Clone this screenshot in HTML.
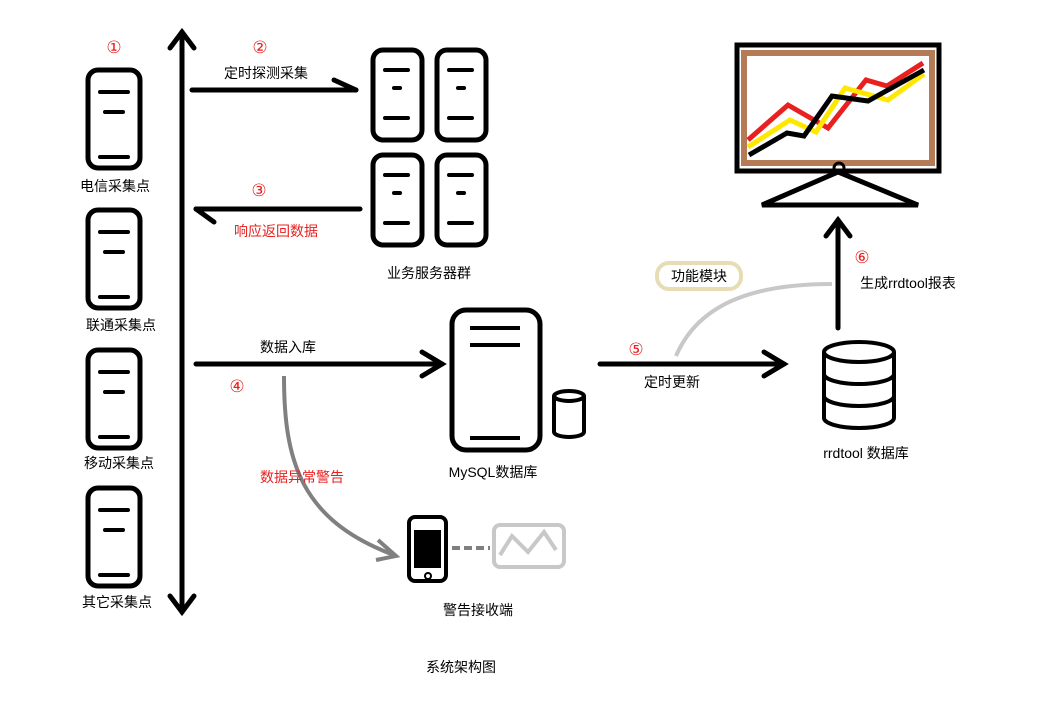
<!DOCTYPE html>
<html><head><meta charset="utf-8"><style>
body{margin:0;background:#fff}
text{font-family:"Liberation Sans","Noto Sans CJK SC",sans-serif;font-size:14px}
.c{font-size:17px;font-family:"DejaVu Sans","Noto Sans CJK SC",sans-serif}
</style></head><body>
<svg width="1047" height="699" viewBox="0 0 1047 699" xmlns="http://www.w3.org/2000/svg">
<defs>
<g id="srv">
<rect x="0" y="0" width="52" height="98" rx="10" fill="none" stroke="#000" stroke-width="5"/>
<line x1="12" y1="22" x2="40" y2="22" stroke="#000" stroke-width="4" stroke-linecap="round"/>
<line x1="17" y1="42" x2="35" y2="42" stroke="#000" stroke-width="4" stroke-linecap="round"/>
<line x1="12" y1="87" x2="40" y2="87" stroke="#000" stroke-width="4" stroke-linecap="round"/>
</g>
<g id="srv2">
<rect x="0" y="0" width="49" height="90" rx="10" fill="none" stroke="#000" stroke-width="5"/>
<line x1="12" y1="20" x2="35" y2="20" stroke="#000" stroke-width="4" stroke-linecap="round"/>
<line x1="21" y1="38" x2="27" y2="38" stroke="#000" stroke-width="4" stroke-linecap="round"/>
<line x1="12" y1="68" x2="35" y2="68" stroke="#000" stroke-width="4" stroke-linecap="round"/>
</g>
</defs>
<g stroke="#000" stroke-width="5" fill="none" stroke-linecap="round">
<line x1="182" y1="32" x2="182" y2="612"/>
<polyline points="170,48 182,32 194,48"/>
<polyline points="170,596 182,612 194,596"/>
<line x1="192" y1="90" x2="356" y2="90"/><polyline points="334,80 356,90"/>
<line x1="360" y1="209" x2="196" y2="209"/><polyline points="196,209 214,222"/>
<line x1="196" y1="364" x2="442" y2="364"/><polyline points="422,352 442,364 422,376"/>
<line x1="600" y1="364" x2="784" y2="364"/><polyline points="764,352 784,364 764,376"/>
<line x1="838" y1="328" x2="838" y2="220"/><polyline points="826,236 838,220 850,236"/>
</g>
<use href="#srv" x="88" y="70"/><use href="#srv" x="88" y="210"/><use href="#srv" x="88" y="350"/><use href="#srv" x="88" y="488"/>
<use href="#srv2" x="373" y="50"/><use href="#srv2" x="437" y="50"/><use href="#srv2" x="373" y="155"/><use href="#srv2" x="437" y="155"/>
<rect x="452" y="310" width="88" height="140" rx="14" fill="none" stroke="#000" stroke-width="5"/>
<line x1="470" y1="328" x2="520" y2="328" stroke="#000" stroke-width="4"/>
<line x1="470" y1="345" x2="520" y2="345" stroke="#000" stroke-width="4"/>
<line x1="470" y1="438" x2="520" y2="438" stroke="#000" stroke-width="4"/>
<g fill="none" stroke="#000" stroke-width="4">
<ellipse cx="569" cy="396" rx="15" ry="5"/><path d="M554 396 V432 A15 5 0 0 0 584 432 V396"/>
<ellipse cx="859" cy="352" rx="35" ry="10"/><path d="M824 352 V418 A35 10 0 0 0 894 418 V352"/>
<path d="M824 374 A35 10 0 0 0 894 374"/><path d="M824 396 A35 10 0 0 0 894 396"/>
</g>
<rect x="737" y="45" width="202" height="126" fill="#fff" stroke="#000" stroke-width="5"/>
<rect x="744" y="53" width="188" height="110" fill="none" stroke="#b57a56" stroke-width="6"/>
<polyline points="748,140 788,105 828,128 866,80 887,86 923,63" fill="none" stroke="#e82020" stroke-width="5"/>
<polyline points="748,147 790,120 816,132 845,88 888,100 924,74" fill="none" stroke="#ffe800" stroke-width="5"/>
<polyline points="749,155 787,133 804,136 832,96 868,101 924,70" fill="none" stroke="#000" stroke-width="5"/>
<path d="M838 172 L762 205 L918 205 Z" fill="none" stroke="#000" stroke-width="5"/>
<circle cx="839" cy="168" r="5" fill="none" stroke="#000" stroke-width="3"/>
<path d="M284 376 C284 460 300 520 394 555" fill="none" stroke="#808080" stroke-width="4"/>
<polyline points="378,540 396,556 376,560" fill="none" stroke="#808080" stroke-width="4"/>
<path d="M676 356 C700 300 760 284 832 284" fill="none" stroke="#c8c8c8" stroke-width="4"/>
<rect x="657" y="263" width="84" height="26" rx="12" fill="#fff" stroke="#e8dcb4" stroke-width="4"/>
<rect x="409" y="517" width="37" height="64" rx="6" fill="#fff" stroke="#000" stroke-width="4"/>
<rect x="414" y="530" width="27" height="38" fill="#000"/>
<circle cx="428" cy="576" r="3" fill="none" stroke="#000" stroke-width="2"/>
<line x1="452" y1="548" x2="490" y2="548" stroke="#808080" stroke-width="4" stroke-dasharray="8,4"/>
<rect x="494" y="525" width="70" height="42" rx="6" fill="none" stroke="#c8c8c8" stroke-width="4"/>
<polyline points="500,555 512,536 528,552 544,532 556,550" fill="none" stroke="#c8c8c8" stroke-width="4"/>
<g fill="#e82020" text-anchor="middle">
<text class="c" x="114" y="53">①</text><text class="c" x="260" y="53">②</text><text class="c" x="259" y="196">③</text>
<text class="c" x="237" y="392">④</text><text class="c" x="636" y="355">⑤</text><text class="c" x="862" y="263">⑥</text>
<text x="276" y="236">响应返回数据</text><text x="302" y="482">数据异常警告</text>
</g>
<g fill="#000" text-anchor="middle">
<text x="115" y="191">电信采集点</text><text x="121" y="330">联通采集点</text><text x="119" y="468">移动采集点</text><text x="117" y="607">其它采集点</text>
<text x="266" y="78">定时探测采集</text><text x="429" y="278">业务服务器群</text>
<text x="288" y="352">数据入库</text><text x="493" y="477">MySQL数据库</text>
<text x="672" y="387">定时更新</text><text x="699" y="281">功能模块</text>
<text x="908" y="288">生成rrdtool报表</text><text x="866" y="458">rrdtool 数据库</text>
<text x="478" y="615">警告接收端</text><text x="461" y="672">系统架构图</text>
</g>
</svg>
</body></html>
